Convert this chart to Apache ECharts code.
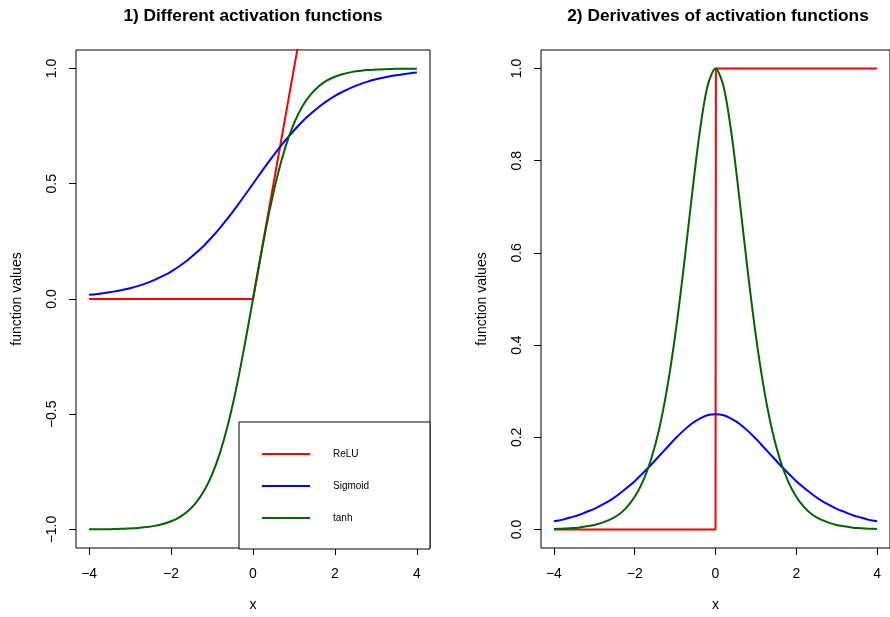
<!DOCTYPE html>
<html>
<head>
<meta charset="utf-8">
<title>Activation functions</title>
<script src="https://cdn.jsdelivr.net/npm/echarts@6/dist/echarts.min.js"></script>
<style>
  html, body { margin: 0; padding: 0; background: #fff; }
  #chart { width: 890px; height: 617px; }
</style>
</head>
<body>
<div id="chart"></div>
<script>
// Sample points along x
const xGrid = [-4.0, -3.8, -3.6, -3.4, -3.2, -3.0, -2.8, -2.6, -2.4, -2.2, -2.0,
  -1.8, -1.6, -1.4, -1.2, -1.0, -0.8, -0.6, -0.4, -0.2, 0.0,
  0.2, 0.4, 0.6, 0.8, 1.0, 1.2, 1.4, 1.6, 1.8, 2.0,
  2.2, 2.4, 2.6, 2.8, 3.0, 3.2, 3.4, 3.6, 3.8, 4.0];

// Panel 1: activation functions
const reluX = [-4, 0, 4];
const reluVals = [0, 0, 4];
const sigmoidVals = [0.018, 0.022, 0.027, 0.032, 0.039, 0.047, 0.057, 0.069, 0.083, 0.100, 0.119,
  0.142, 0.168, 0.198, 0.231, 0.269, 0.310, 0.354, 0.401, 0.450, 0.500,
  0.550, 0.599, 0.646, 0.690, 0.731, 0.769, 0.802, 0.832, 0.858, 0.881,
  0.900, 0.917, 0.931, 0.943, 0.953, 0.961, 0.968, 0.973, 0.978, 0.982];
const tanhVals = [-0.999, -0.999, -0.999, -0.998, -0.997, -0.995, -0.993, -0.989, -0.984, -0.976, -0.964,
  -0.947, -0.922, -0.885, -0.834, -0.762, -0.664, -0.537, -0.380, -0.197, 0.000,
  0.197, 0.380, 0.537, 0.664, 0.762, 0.834, 0.885, 0.922, 0.947, 0.964,
  0.976, 0.984, 0.989, 0.993, 0.995, 0.997, 0.998, 0.999, 0.999, 0.999];

// Panel 2: derivatives
const reluDerivX = [-4, 0, 0.01, 4];
const reluDerivVals = [0, 0, 1, 1];
const sigmoidDerivVals = [0.018, 0.021, 0.026, 0.031, 0.038, 0.045, 0.054, 0.064, 0.076, 0.090, 0.105,
  0.122, 0.140, 0.159, 0.178, 0.197, 0.214, 0.229, 0.240, 0.248, 0.250,
  0.248, 0.240, 0.229, 0.214, 0.197, 0.178, 0.159, 0.140, 0.122, 0.105,
  0.090, 0.076, 0.064, 0.054, 0.045, 0.038, 0.031, 0.026, 0.021, 0.018];
const tanhDerivVals = [0.001, 0.002, 0.003, 0.004, 0.007, 0.010, 0.015, 0.022, 0.032, 0.048, 0.071,
  0.104, 0.151, 0.216, 0.305, 0.420, 0.559, 0.712, 0.856, 0.961, 1.000,
  0.961, 0.856, 0.712, 0.559, 0.420, 0.305, 0.216, 0.151, 0.104, 0.071,
  0.048, 0.032, 0.022, 0.015, 0.010, 0.007, 0.004, 0.003, 0.002, 0.001];

// Tick positions
const xTicks = [-4, -2, 0, 2, 4];
const yTicksLeft = [-1, -0.5, 0, 0.5, 1];
const yTicksRight = [0, 0.2, 0.4, 0.6, 0.8, 1];

const seriesNames = ['ReLU', 'Sigmoid', 'tanh'];
const panelTitles = ['1) Different activation functions', '2) Derivatives of activation functions'];
const colors = { ReLU: '#ff0000', Sigmoid: '#0000ff', tanh: '#006400' };

const FONT = '"Liberation Sans", Arial, Helvetica, sans-serif';
const fmtNum = (v, d) => (v < 0 ? '\u2212' : '') + Math.abs(v).toFixed(d);
const pairs = (xs, ys) => xs.map((x, i) => [x, ys[i]]);

function xAxisFor(gridIndex) {
  return {
    type: 'value', gridIndex, min: -4.32, max: 4.32,
    name: 'x', nameLocation: 'middle', nameGap: 50,
    nameTextStyle: { fontFamily: FONT, fontSize: 14, color: '#000' },
    axisLine: { show: false, onZero: false },
    splitLine: { show: false },
    axisTick: { show: true, inside: false, length: 7, customValues: xTicks,
      lineStyle: { color: '#000', width: 1 } },
    axisLabel: { customValues: xTicks, margin: 19, fontFamily: FONT, fontSize: 14, color: '#000',
      formatter: v => fmtNum(v, 0) }
  };
}
function yAxisFor(gridIndex, min, max, ticks) {
  return {
    type: 'value', gridIndex, min, max,
    name: 'function values', nameLocation: 'middle', nameRotate: 90, nameGap: 52,
    nameTextStyle: { fontFamily: FONT, fontSize: 14, color: '#000' },
    axisLine: { show: false, onZero: false },
    splitLine: { show: false },
    axisTick: { show: true, inside: false, length: 7, customValues: ticks,
      lineStyle: { color: '#000', width: 1 } },
    axisLabel: { customValues: ticks, rotate: 90, margin: 17, fontFamily: FONT, fontSize: 14, color: '#000',
      formatter: v => fmtNum(v, 1) }
  };
}
function line(name, data, xi, smooth) {
  return {
    type: 'line', name, data, xAxisIndex: xi, yAxisIndex: xi,
    showSymbol: false, symbol: 'none', smooth: smooth, clip: true,
    lineStyle: { color: colors[name], width: 2 },
    itemStyle: { color: colors[name] },
    emphasis: { disabled: true }, silent: true, animation: false, z: 3
  };
}
function titleText(text, cx) {
  return { type: 'text', x: cx, y: 16, silent: true,
    style: { text, fill: '#000', font: 'bold 17.3px ' + FONT, textAlign: 'center', textVerticalAlign: 'middle' } };
}

const chart = echarts.init(document.getElementById('chart'), null, { renderer: 'canvas' });
chart.setOption({
  backgroundColor: '#fff',
  animation: false,
  grid: [
    { left: 76, top: 50, width: 354, height: 499, show: true, borderColor: '#000', borderWidth: 1,
      backgroundColor: 'transparent', containLabel: false },
    { left: 541, top: 50, width: 354, height: 499, show: true, borderColor: '#000', borderWidth: 1,
      backgroundColor: 'transparent', containLabel: false }
  ],
  xAxis: [xAxisFor(0), xAxisFor(1)],
  yAxis: [yAxisFor(0, -1.08, 1.08, yTicksLeft), yAxisFor(1, -0.04, 1.04, yTicksRight)],
  legend: {
    data: seriesNames, orient: 'vertical', left: 257, top: 443, z: 20,
    icon: 'rect', itemWidth: 48, itemHeight: 2, itemGap: 20, selectedMode: false,
    textStyle: { fontFamily: FONT, fontSize: 10, color: '#000', lineHeight: 12, padding: [0, 0, 0, 18] }
  },
  graphic: [
    titleText(panelTitles[0], 253),
    titleText(panelTitles[1], 718),
    { type: 'rect', z: 10, shape: { x: 239, y: 422, width: 191, height: 127 },
      style: { fill: '#fff', stroke: '#000', lineWidth: 1 }, silent: true }
  ],
  series: [
    line('ReLU', pairs(reluX, reluVals), 0, false),
    line('Sigmoid', pairs(xGrid, sigmoidVals), 0, 0.3),
    line('tanh', pairs(xGrid, tanhVals), 0, 0.3),
    line('ReLU', pairs(reluDerivX, reluDerivVals), 1, false),
    line('Sigmoid', pairs(xGrid, sigmoidDerivVals), 1, 0.3),
    line('tanh', pairs(xGrid, tanhDerivVals), 1, 0.3)
  ]
});
</script>
</body>
</html>
